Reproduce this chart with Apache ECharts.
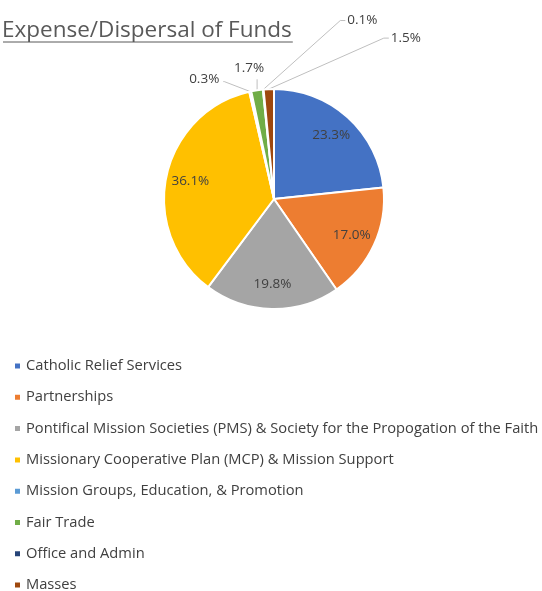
<!DOCTYPE html>
<html>
<head>
<meta charset="utf-8">
<script src="https://cdn.jsdelivr.net/npm/echarts@6/dist/echarts.min.js"></script>
<style>
html,body{margin:0;padding:0;background:#fff;}
#chart{width:542px;height:591px;}
</style>
</head>
<body>
<div id="chart"></div>
<script>
const titleText = 'Expense/Dispersal of Funds';
const categories = [
  'Catholic Relief Services',
  'Partnerships',
  'Pontifical Mission Societies (PMS) & Society for the Propogation of the Faith',
  'Missionary Cooperative Plan (MCP) & Mission Support',
  'Mission Groups, Education, & Promotion',
  'Fair Trade',
  'Office and Admin',
  'Masses'
];
const values = [23.3, 17.0, 19.8, 36.1, 0.3, 1.7, 0.1, 1.5];
const colors = ['#4472C4', '#ED7D31', '#A5A5A5', '#FFC000', '#5B9BD5', '#70AD47', '#264478', '#9E480E'];

// leader-line offsets for the small slices, relative to the slice edge point
const smallLabelOffsets = {
  4: {ex: -26, ey: -10, fx: -27, fy: -10, lx: -31, ly: -12, align: 'right'},
  5: {ex: 0, ey: -11, fx: 0, fy: -11, lx: -8, ly: -22, align: 'center'},
  6: {ex: 77, ey: -69, fx: 82, fy: -69, lx: 84, ly: -69, align: 'left'},
  7: {ex: 115, ey: -51, fx: 120, fy: -51, lx: 122, ly: -51, align: 'left'}
};

const FONT = '"Open Sans", "Noto Sans", sans-serif';
const TITLE_FONT = '22.5px "Open Sans"';
const cx = 274, cy = 199, R = 110;

const chart = echarts.init(document.getElementById('chart'), null, {renderer: 'canvas'});

const cvs = document.createElement('canvas').getContext('2d');
cvs.font = TITLE_FONT;
const titleW = cvs.measureText(titleText).width;

const fmt = p => Number(p.value).toFixed(1) + '%';

const dataA = categories.map((n, i) => ({
  name: n, value: values[i],
  itemStyle: {color: colors[i]},
  label: {show: values[i] < 5},
  labelLine: {show: values[i] < 5}
}));
const dataB = categories.map((n, i) => ({
  name: n, value: values[i],
  label: {show: values[i] >= 5}
}));

chart.setOption({
  animation: false,
  color: colors,
  graphic: [
    {type: 'text', left: 2, top: 19, style: {text: titleText, font: TITLE_FONT, fill: '#595959'}},
    {type: 'line', shape: {x1: 3, y1: 42, x2: 3 + titleW, y2: 42}, style: {stroke: '#595959', lineWidth: 1}}
  ],
  legend: {
    orient: 'vertical',
    left: 8,
    top: 353,
    height: 260,
    data: categories,
    icon: 'rect',
    itemWidth: 7,
    itemHeight: 7,
    itemGap: 15.3,
    selectedMode: false,
    textStyle: {color: '#404040', fontSize: 14.7, fontFamily: FONT, lineHeight: 16}
  },
  series: [
    {
      type: 'pie',
      center: [cx, cy],
      radius: R,
      startAngle: 90,
      clockwise: true,
      avoidLabelOverlap: false,
      silent: true,
      itemStyle: {borderColor: '#fff', borderWidth: 2},
      label: {position: 'outside', formatter: fmt, color: '#404040', fontSize: 13.5, fontFamily: FONT},
      labelLine: {length: 10, length2: 5, lineStyle: {color: '#BFBFBF', width: 1}},
      labelLayout: function (p) {
        const o = smallLabelOffsets[p.dataIndex];
        if (!o || !p.labelLinePoints) return {};
        const s = p.labelLinePoints[0];
        return {
          x: s[0] + o.lx, y: s[1] + o.ly, align: o.align, verticalAlign: 'middle',
          labelLinePoints: [[s[0], s[1]], [s[0] + o.ex, s[1] + o.ey], [s[0] + o.fx, s[1] + o.fy]]
        };
      },
      data: dataA
    },
    {
      type: 'pie',
      center: [cx, cy],
      radius: [R * 0.5, R],
      startAngle: 90,
      clockwise: true,
      silent: true,
      itemStyle: {color: 'rgba(0,0,0,0)', borderWidth: 0},
      label: {position: 'inside', formatter: fmt, color: '#404040', fontSize: 13.5, fontFamily: FONT},
      labelLine: {show: false},
      emphasis: {disabled: true},
      data: dataB
    }
  ]
});
</script>
</body>
</html>
